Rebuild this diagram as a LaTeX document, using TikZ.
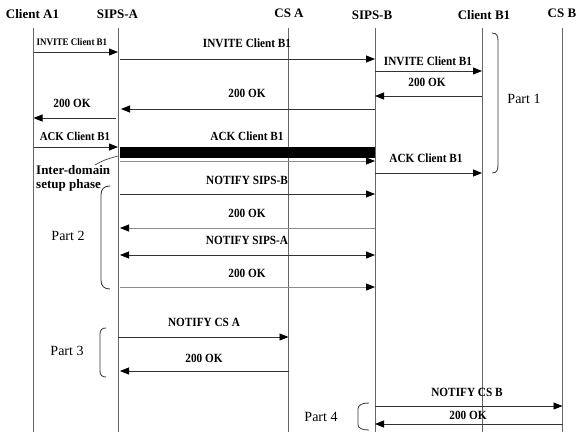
\documentclass[tikz,border=0pt]{standalone}
\usepackage{fontspec}
\setmainfont{Liberation Serif}
\newfontfamily\msgfont[FakeStretch=0.9]{Liberation Serif}
\usetikzlibrary{arrows.meta}
\begin{document}
\begin{tikzpicture}[x=1pt,y=-1pt,
  head/.style={font=\bfseries\fontsize{13}{15}\selectfont, inner sep=0pt},
  lbl/.style={font=\msgfont\bfseries\fontsize{12.5}{14}\selectfont, inner sep=0pt},
  slbl/.style={font=\msgfont\bfseries\fontsize{10}{12}\selectfont, inner sep=0pt},
  plbl/.style={font=\fontsize{14}{16}\selectfont, inner sep=0pt},
  life/.style={draw=black!60, line width=0.8pt},
  msg/.style={draw=black!80, line width=0.8pt, -{Triangle[length=9pt,width=7pt,color=black]}},
  gmsg/.style={msg, draw=black!45},
  dmsg/.style={draw=black!80, line width=0.8pt, {Triangle[length=9pt,width=7pt,color=black]}-{Triangle[length=9pt,width=7pt,color=black]}},
  bracket/.style={draw=black!80, line width=0.8pt},
]
\useasboundingbox (0,0) rectangle (576,432);
% heads
\node[head] (hA)  at (32.5,14) {Client A1};
\node[head] (hSA) at (117.5,14) {SIPS-A};
\node[head] (hCA) at (289,13) {CS A};
\node[head] (hSB) at (372,15) {SIPS-B};
\node[head] (hB)  at (484,15) {Client B1};
\node[head] (hCB) at (562,13) {CS B};
% lifelines
\coordinate (A)  at (33.5,28);
\coordinate (SA) at (118,28);
\coordinate (CA) at (288.5,28);
\coordinate (SB) at (375,28);
\coordinate (B)  at (482,28);
\coordinate (CB) at (562.5,28);
\foreach \p in {A,SA,CA,SB,B,CB} \draw[life] (\p) -- (\p |- 0,432);
% Part 1
\draw[msg] (A |- 0,52) -- (SA |- 0,52);
\node[slbl] (m1) at (72,42) {INVITE Client B1};
\draw[msg] ([xshift=2pt]SA |- 0,59) -- (SB |- 0,59);
\node[lbl] (m2) at (247,43) {INVITE Client B1};
\draw[msg] (SB |- 0,71) -- (B |- 0,71);
\node[lbl] (m3) at (428,61) {INVITE Client B1};
\draw[msg] (B |- 0,96) -- (SB |- 0,96);
\node[lbl] (m4) at (427,82) {200 OK};
\draw[msg] (SB |- 0,109) -- ([xshift=3pt]SA |- 0,109);
\node[lbl] (m5) at (247,93) {200 OK};
\draw[msg] ([xshift=-2pt]SA |- 0,118) -- (A |- 0,118);
\node[lbl] (m6) at (72,103) {200 OK};
\draw[msg] (A |- 0,147) -- (SA |- 0,147);
\node[lbl, font=\msgfont\bfseries\fontsize{12}{14}\selectfont] (m7) at (75,136) {ACK Client B1};
\fill[black] ([xshift=2pt]SA |- 0,147) rectangle (SB |- 0,158);
\draw[gmsg] ([xshift=2pt]SA |- 0,161) -- (SB |- 0,161);
\node[lbl] (m8) at (247,136) {ACK Client B1};
\draw[msg] (SB |- 0,173) -- (B |- 0,173);
\node[lbl] (m9) at (426,158) {ACK Client B1};
\draw[bracket] (492,33) .. controls (497,33) and (498,36) .. (498,41) -- (498,165) .. controls (498,170) and (497,173) .. (492,173);
\node[plbl] (p1) at (524,99) {Part 1};
% inter-domain
\node[font=\bfseries\fontsize{13}{15}\selectfont, inner sep=0pt, align=left, anchor=north west] (inter) at (36,165) {Inter-domain\\[-1pt]setup phase};
\coordinate (barL) at (118,156);
\draw[draw=black!80, line width=0.6pt] (95,165) .. controls (104,160) .. (barL);
% Part 2
\draw[msg] ([xshift=2pt]SA |- 0,194) -- (SB |- 0,194);
\node[lbl] (n1) at (247,180) {NOTIFY SIPS-B};
\draw[gmsg] (SB |- 0,228) -- ([xshift=2pt]SA |- 0,228);
\node[lbl] (n2) at (247,213) {200 OK};
\draw[dmsg] ([xshift=2pt]SA |- 0,255) -- (SB |- 0,255);
\node[lbl] (n3) at (247,240) {NOTIFY SIPS-A};
\draw[gmsg] ([xshift=2pt]SA |- 0,287) -- (SB |- 0,287);
\node[lbl] (n4) at (247,273) {200 OK};
\draw[bracket] (110,186) .. controls (104,186) and (101,189) .. (101,195) -- (101,280) .. controls (101,286) and (104,289) .. (110,289);
\node[plbl] (p2) at (68,236) {Part 2};
% Part 3
\draw[msg] (SA |- 0,337) -- (CA |- 0,337);
\node[lbl] (c1) at (204,322) {NOTIFY CS A};
\draw[msg] (CA |- 0,371) -- ([xshift=2pt]SA |- 0,371);
\node[lbl] (c2) at (204,358) {200 OK};
\draw[bracket] (106,328) .. controls (102,328) and (100,330) .. (100,334) -- (100,371) .. controls (100,375) and (102,377) .. (106,377);
\node[plbl] (p3) at (67,351) {Part 3};
% Part 4
\draw[msg] (SB |- 0,406) -- (CB |- 0,406);
\node[lbl] (d1) at (467,392) {NOTIFY CS B};
\draw[msg] (CB |- 0,424) -- (SB |- 0,424);
\node[lbl] (d2) at (468,415) {200 OK};
\draw[bracket] (369,403) .. controls (362,403) and (358,405) .. (358,409) -- (358,425) .. controls (358,428) and (362,430) .. (369,430);
\node[plbl] (p4) at (321,417) {Part 4};
\end{tikzpicture}
\end{document}
